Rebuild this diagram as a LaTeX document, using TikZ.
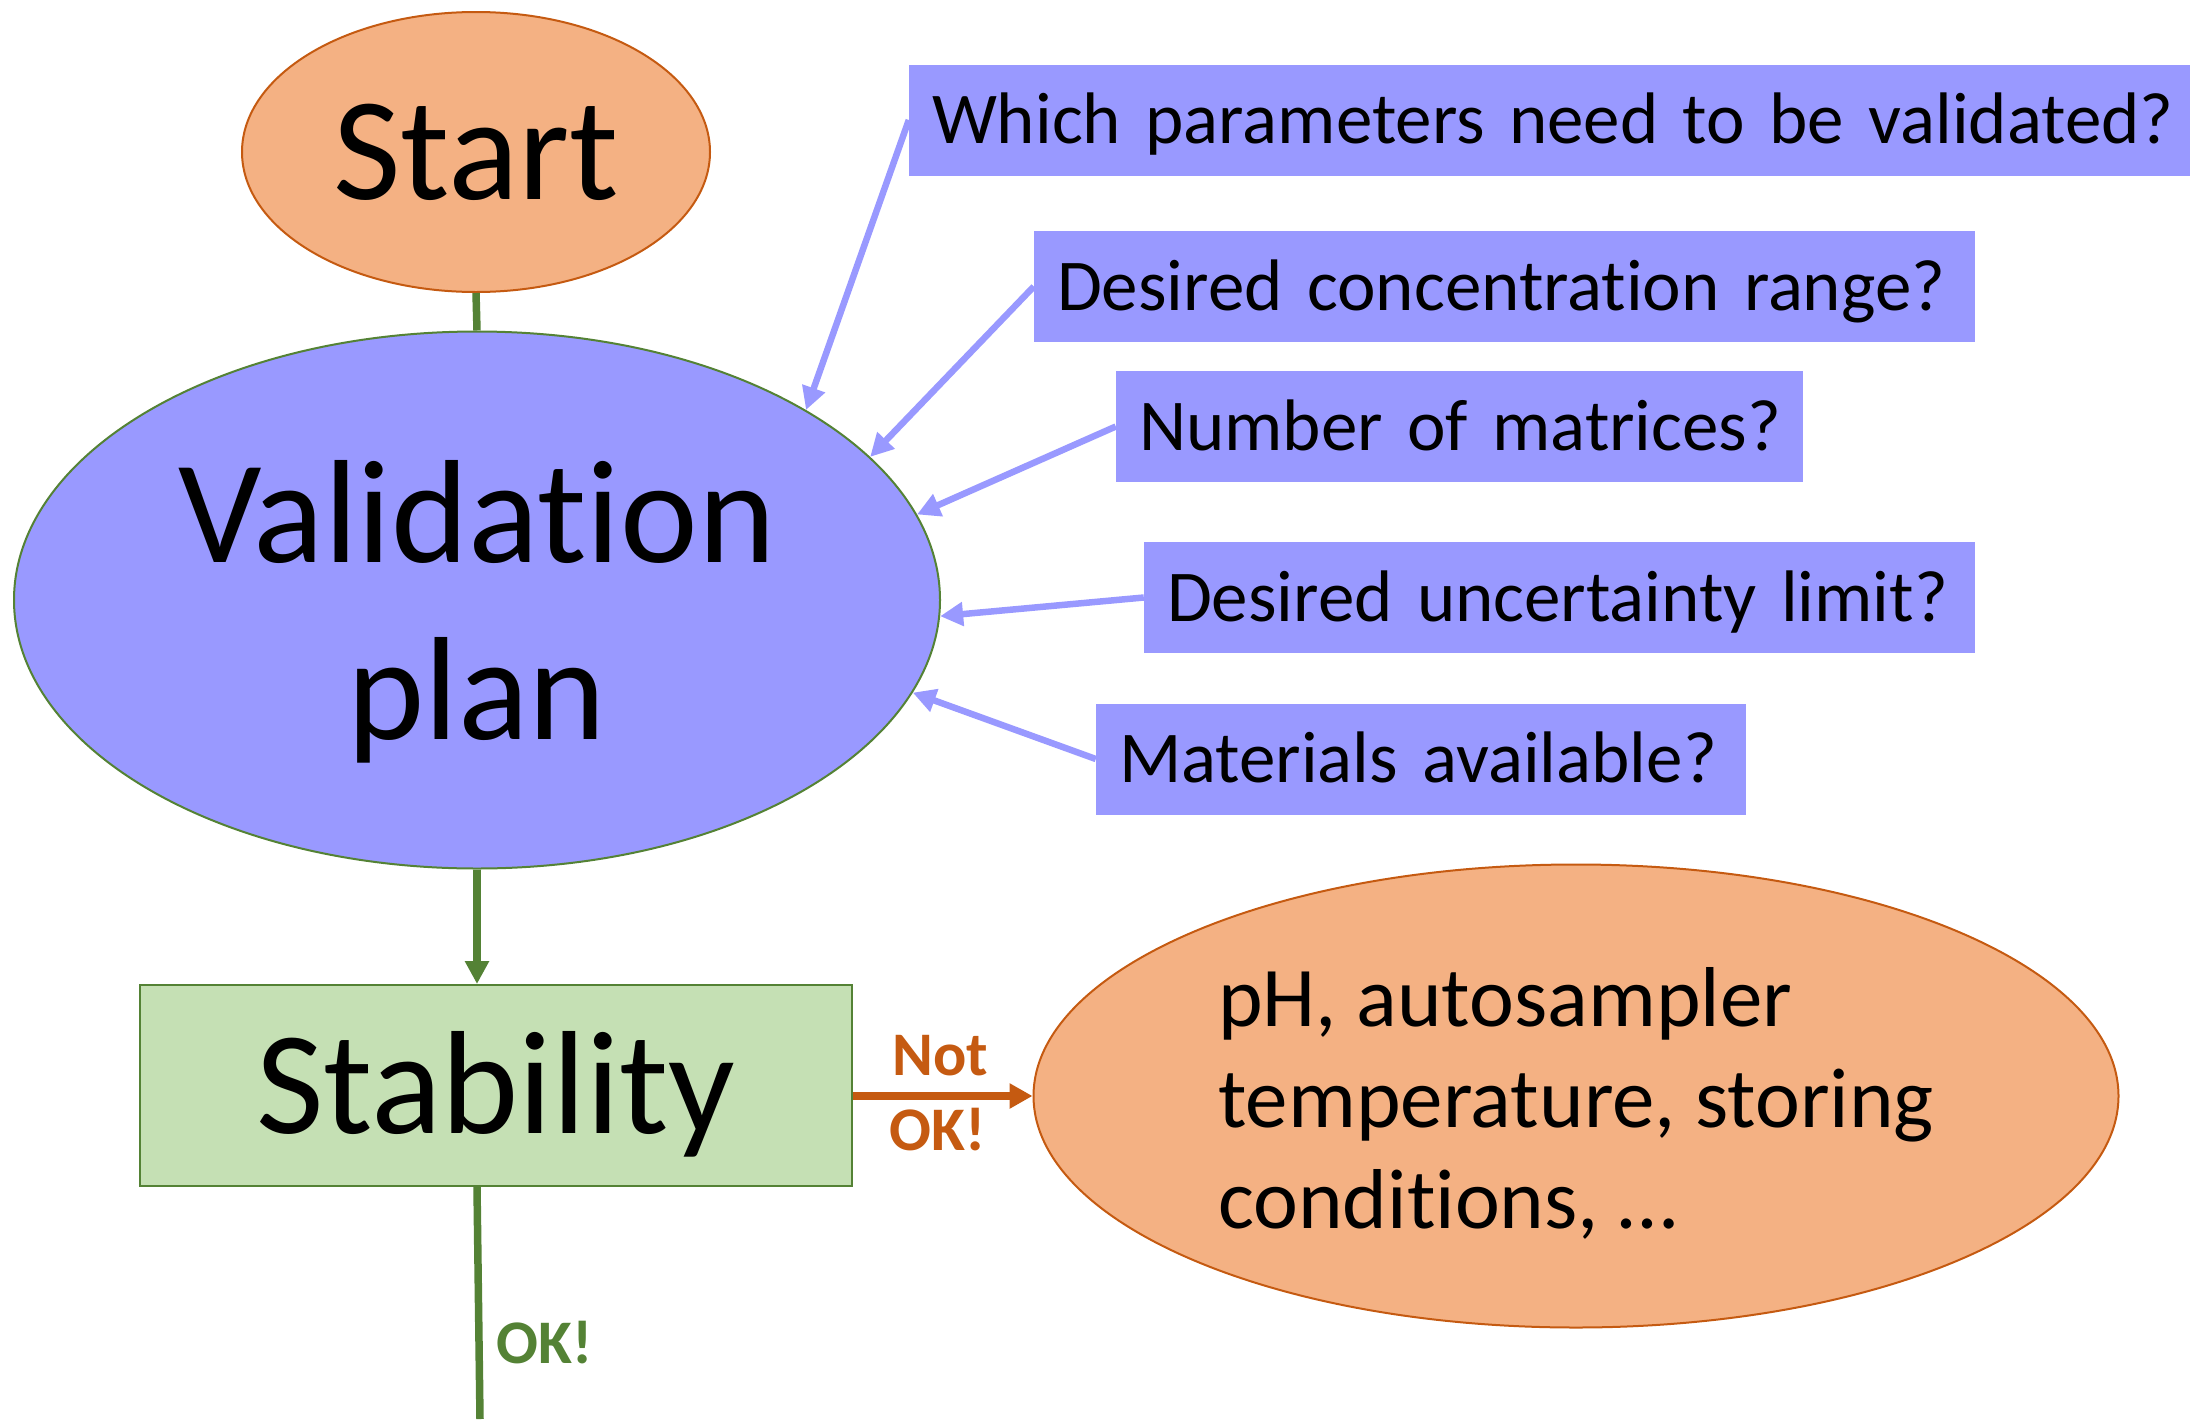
\documentclass[tikz,border=0pt]{standalone}
\usepackage{fontspec}
\setmainfont{Carlito}[Ligatures=NoCommon]
\usetikzlibrary{shapes.geometric,arrows.meta}
\definecolor{orfill}{HTML}{F4B183}
\definecolor{orline}{HTML}{C55A11}
\definecolor{qcol}{HTML}{9999FF}
\definecolor{grfill}{HTML}{C5E0B4}
\definecolor{grline}{HTML}{548235}
\begin{document}
\begin{tikzpicture}[x=1pt,y=-1pt,
  bigfont/.style={font=\fontsize{147}{177}\selectfont},
  startel/.style={ellipse, fill=orfill, draw=orline, line width=2pt, inner sep=0pt,
    minimum width=468pt, minimum height=280pt, bigfont, text height=95pt, text depth=0pt},
  vpel/.style={ellipse, fill=qcol, draw=grline, line width=2pt, inner sep=0pt,
    minimum width=926pt, minimum height=537pt, bigfont, align=center,
    text height=278pt, text depth=0pt},
  orel/.style={ellipse, fill=orfill, draw=orline, line width=2pt, inner sep=0pt,
    minimum width=1085pt, minimum height=463pt, align=left, font=\fontsize{85}{101}\selectfont,
    text height=265pt, text depth=0pt},
  stabbox/.style={rectangle, fill=grfill, draw=grline, line width=2pt, inner sep=0pt,
    minimum width=712pt, minimum height=201pt, bigfont, text height=95pt, text depth=0pt},
  qbox/.style={rectangle, fill=qcol, draw=none, inner xsep=23pt, inner ysep=0pt,
    minimum height=111pt, align=left, font=\fontsize{73}{88}\selectfont,
    text height=47pt, text depth=0pt},
  qarrow/.style={draw=qcol, line width=6.5pt, -{Triangle[length=23pt,width=23pt]}},
  grconn/.style={draw=grline, line width=7.5pt},
  grarrow/.style={grconn, -{Triangle[length=23pt,width=23pt]}},
  orarrow/.style={draw=orline, line width=8pt, -{Triangle[length=23pt,width=24pt]}},
  lab/.style={font=\fontsize{62}{74}\selectfont\bfseries, inner sep=0pt, text height=40pt, text depth=0pt}
]
\useasboundingbox (0,0) rectangle (2190,1419);

% nodes
\node[startel] (start) at (476,152) {Start};
\node[vpel] (vp) at (477,600) {Validation\\plan};
\node[stabbox] (stab) at (496,1085.5) {Stability};
\node[orel] (or) at (1576,1096) {pH, autosampler\\temperature, storing\\conditions, …};

\node[qbox, text width=1235pt] (q1) at (1549.5,120) {\mbox{Which parameters need to be validated?}};
\node[qbox, text width=895pt] (q2) at (1504.5,286.5) {\mbox{Desired concentration range?}};
\node[qbox, text width=641pt] (q3) at (1459.5,426.5) {\mbox{Number of matrices?}};
\node[qbox, text width=785pt] (q4) at (1559.5,597.5) {\mbox{Desired uncertainty limit?}};
\node[qbox, text width=604pt] (q5) at (1421,759) {\mbox{Materials available?}};

% connectors
\draw[grconn] (start.south) -- (vp.north);
\draw[grarrow] (vp.south) -- (vp.south |- stab.north);
\coordinate (bot) at (480,1419);
\draw[grconn] (vp.south |- stab.south) -- (bot);
\node[lab, text=grline] (ok) at (545,1343) {OK!};

\draw[orarrow] (stab.east |- or.west) -- (or.west);
\node[lab, text=orline] (notl) at (940,1055) {Not};
\node[lab, text=orline] (notok) at (938,1130) {OK!};

\draw[qarrow] (q1.west) -- (vp.30.3);
\draw[qarrow] (q2.west) -- (vp.20.2);
\draw[qarrow] (q3.west) -- (vp.11.1);
\draw[qarrow] (q4.west) -- (vp.-2.5);
\draw[qarrow] (q5.west) -- (vp.-12.4);
\end{tikzpicture}
\end{document}
